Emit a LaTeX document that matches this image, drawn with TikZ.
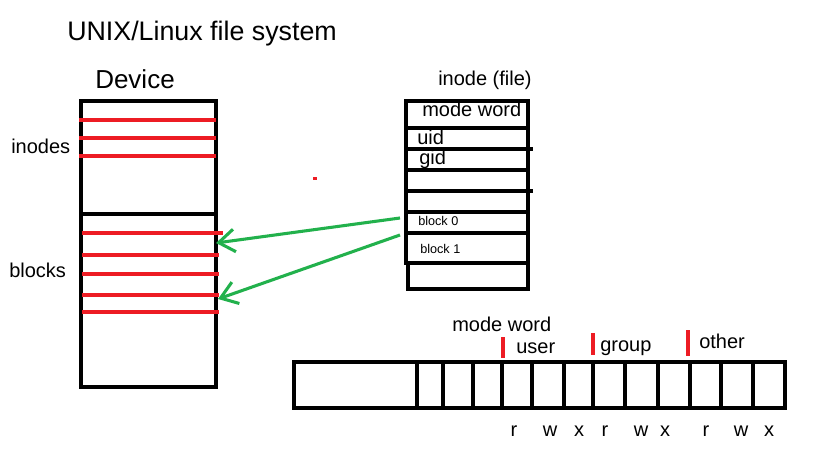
\documentclass[tikz,border=0pt]{standalone}
\usepackage{fontspec}
\setmainfont{Liberation Sans}
\usetikzlibrary{arrows.meta}
\definecolor{redln}{RGB}{237,28,36}
\definecolor{grn}{RGB}{34,177,76}
\begin{document}
\begin{tikzpicture}[x=0.75pt,y=-0.75pt,
  box/.style={draw=black, line width=2.4pt},
  redl/.style={draw=redln, line width=2.3pt},
  grarrow/.style={draw=grn, line width=2.3pt, -{Straight Barb[length=12pt,width=17pt,line width=2.3pt]}},
  lbl/.style={inner sep=0pt, anchor=base west},
  big/.style={font=\fontsize{20.1}{24}\selectfont},
  dev/.style={font=\fontsize{19.5}{22}\selectfont},
  mid/.style={font=\fontsize{15}{18}\selectfont},
  small/.style={font=\fontsize{9.5}{11}\selectfont},
]
\useasboundingbox[fill=white] (0,0) rectangle (819,460);

% title and labels
\node[lbl,big] (title) at (67,41) {UNIX/Linux file system};
\node[lbl,dev] (device) at (95,89) {Device};
\node[lbl,mid] (inodes) at (11,154) {inodes};
\node[lbl,mid] (blocks) at (9,277) {blocks};

% device
\draw[box] (81,101) rectangle (216,387);
\draw[box] (81,214) -- (216,214);
\foreach \yy in {120,138,156} \draw[redl] (79,\yy) -- (216,\yy);
\draw[redl] (82,233) -- (223,233);
\foreach \yy in {255,274,295,312} \draw[redl] (82,\yy) -- (219,\yy);

% inode
\node[lbl,mid] (inodefile) at (438,86) {inode (file)};
\draw[box] (406,101) rectangle (528,263);
\foreach \yy in {128,170,212,233} \draw[box] (406,\yy) -- (528,\yy);
\foreach \yy in {149,191} \draw[box] (406,\yy) -- (533,\yy);
\draw[box] (408,263) rectangle (528,289);
\node[lbl,mid] (mw1) at (422,117) {mode word};
\node[lbl,mid] (uid) at (417,145) {uid};
\node[lbl,mid] (gid) at (419,165) {gid};
\node[lbl,small] (b0) at (418,226) {block 0};
\node[lbl,small] (b1) at (420,253) {block 1};

% arrows
\coordinate (s0) at (400,218);
\coordinate (e0) at (216,243);
\coordinate (s1) at (400,235);
\coordinate (e1) at (218,299);
\draw[grarrow] (s0) -- (e0);
\draw[grarrow] (s1) -- (e1);

% red dot
\fill[redln] (313,177) rectangle (317,180);

% mode word bar
\draw[box] (294,362) rectangle (785,408);
\foreach \xx in {417,443,473,502,532,564,593,625,658,690,721,753}
  \draw[box] (\xx,362) -- (\xx,408);
\draw[redl] (503,337) -- (503,358);
\draw[redl] (593,333) -- (593,355);
\draw[redl] (688,330) -- (688,356);
\node[lbl,mid] (mw2) at (452,331) {mode word};
\node[lbl,mid] (user) at (516,353) {user};
\node[lbl,mid] (group) at (600,351) {group};
\node[lbl,mid] (other) at (699,348) {other};
\foreach \xx/\t [count=\i] in {514/r,550/w,579/x,605/r,641/w,665/x,706/r,741/w,769/x}
  \node[inner sep=0pt, anchor=base, mid] (p\i) at (\xx,436) {\t};
\end{tikzpicture}
\end{document}
